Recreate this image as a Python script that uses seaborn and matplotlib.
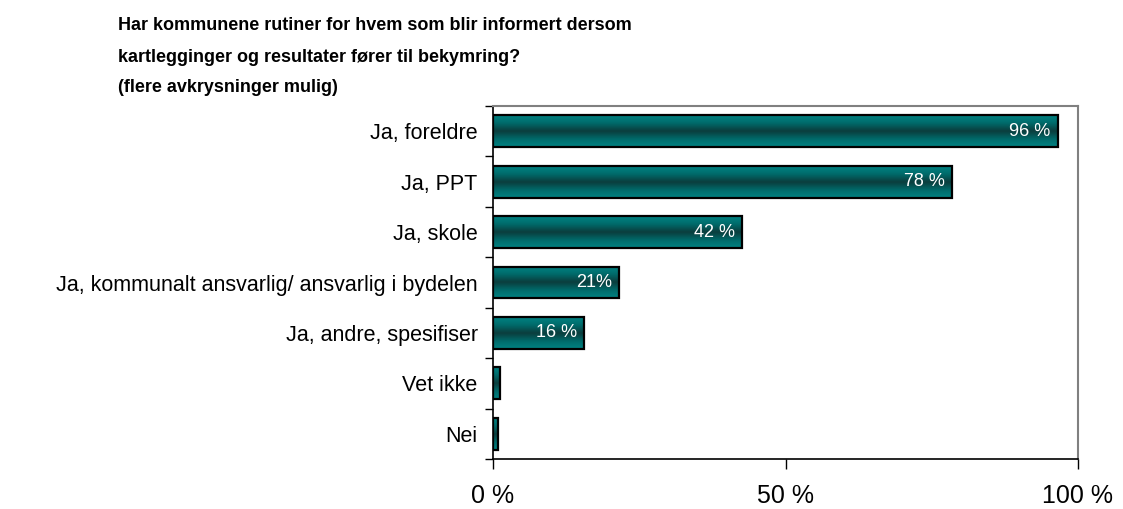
import numpy as np
import pandas as pd
import matplotlib
matplotlib.use("Agg")
import matplotlib.pyplot as plt
from matplotlib.colors import LinearSegmentedColormap
from matplotlib.ticker import FixedLocator
import seaborn as sns

categories = ["Ja, foreldre", "Ja, PPT", "Ja, skole",
              "Ja, kommunalt ansvarlig/ ansvarlig i bydelen",
              "Ja, andre, spesifiser", "Vet ikke", "Nei"]
values = [96.5, 78.5, 42.5, 21.5, 15.5, 1.2, 0.8]
value_labels = ["96 %", "78 %", "42 %", "21%", "16 %", "", ""]
xtick_values = [0, 50, 100]
xtick_labels = ["0 %", "50 %", "100 %"]
title_lines = ["Har kommunene rutiner for hvem som blir informert dersom",
               "kartlegginger og resultater fører til bekymring?",
               "(flere avkrysninger mulig)"]

sns.set_theme(style="white")
plt.rcParams["font.family"] = ["Liberation Sans", "DejaVu Sans"]

df = pd.DataFrame({"kategori": categories, "verdi": values})

fig = plt.figure(figsize=(11.23, 5.09), dpi=100)
ax = fig.add_axes([493/1123, 1-459/509, (1078-493)/1123, (459-106)/509])

sns.barplot(data=df, y="kategori", x="verdi", orient="h", ax=ax,
            color="#007878", width=0.63, edgecolor="black", linewidth=1.6)

cmap = LinearSegmentedColormap.from_list(
    "teal", ["#008282", "#006a6a", "#0b3c3c", "#006a6a", "#008282"])
grad = np.linspace(0, 1, 64).reshape(-1, 1)
for p in list(ax.patches):
    x0, y0 = p.get_x(), p.get_y()
    w, h = p.get_width(), p.get_height()
    im = ax.imshow(grad, cmap=cmap, aspect="auto",
                   extent=(x0, x0 + w, y0 + h, y0),
                   zorder=p.get_zorder() - 0.05, interpolation="bicubic")
    im.set_clip_path(p)
    p.set_facecolor("none")
    p.set_zorder(p.get_zorder() + 0.1)

for i, (v, lab) in enumerate(zip(values, value_labels)):
    if lab:
        ax.text(v - 1.2, i, lab, ha="right", va="center", color="white",
                fontsize=13, zorder=5)

ax.set_xlim(0, 100)
ax.set_ylim(len(categories) - 0.5, -0.5)
ax.set_xlabel("")
ax.set_ylabel("")
ax.set_xticks(xtick_values)
ax.set_xticklabels(xtick_labels, fontsize=18)
ax.set_yticks(range(len(categories)))
ax.set_yticklabels(categories, fontsize=15.5)
ax.yaxis.set_minor_locator(FixedLocator(np.arange(-0.5, len(categories), 1.0)))
ax.tick_params(axis="y", which="major", length=0, pad=11, colors="black")
ax.tick_params(axis="y", which="minor", length=6, width=1, color="black",
               direction="out", left=True)
ax.tick_params(axis="x", which="major", length=7, width=1, color="black",
               direction="out", pad=11, bottom=True, labelcolor="black")

for s in ["top", "right"]:
    ax.spines[s].set_color("#808080")
    ax.spines[s].set_linewidth(1.5)
for s in ["left", "bottom"]:
    ax.spines[s].set_color("black")
    ax.spines[s].set_linewidth(1.2)

ys = [26, 57, 88]
for line, yy in zip(title_lines, ys):
    fig.text(118/1123, 1 - yy/509, line, ha="left", va="center",
             fontsize=13, fontweight="bold", color="black")

fig.savefig("out.png", dpi=100)
